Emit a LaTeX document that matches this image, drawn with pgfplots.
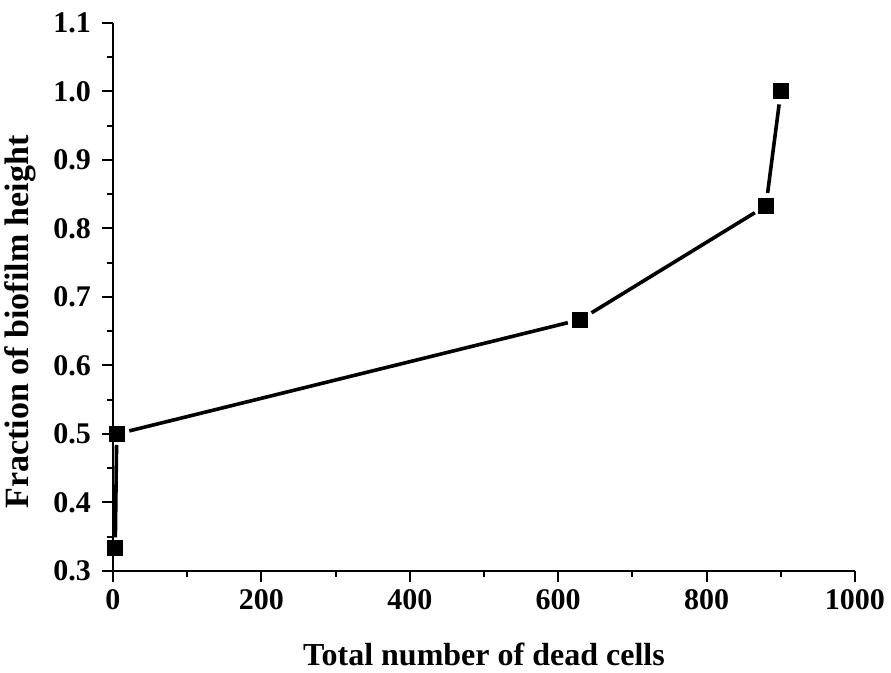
\documentclass[border=0pt]{standalone}
\usepackage{pgfplots}
\pgfplotsset{compat=1.18}
\usepackage{fontspec}
\setmainfont{Liberation Serif}
\pgfplotstableread{
x    y
3    0.333
5    0.5
630  0.667
880  0.833
900  1.0
}\heightdata
\begin{document}
\begin{tikzpicture}
\begin{axis}[
  scale only axis,
  width=371pt, height=274pt,
  xmin=0, xmax=1000, ymin=0.3, ymax=1.1,
  axis lines*=left,
  axis line style={line width=1pt, -},
  xtick={0,200,...,1000},
  ytick={0.3,0.4,...,1.1},
  minor x tick num=1, minor y tick num=1,
  tick align=outside,
  major tick length=5.5pt, minor tick length=3pt,
  every tick/.style={line width=1pt, black},
  tick label style={font=\fontsize{15}{18}\selectfont\bfseries},
  /pgf/number format/assume math mode=true,
  yticklabel style={xshift=-2pt, /pgf/number format/.cd, fixed, fixed zerofill, precision=1},
  xticklabel style={/pgf/number format/.cd, fixed, 1000 sep={}},
  xlabel={Total number of dead cells},
  ylabel={Fraction of biofilm height},
  xlabel style={font=\fontsize{16}{19}\selectfont\bfseries, yshift=-10pt},
  ylabel style={font=\fontsize{17}{20}\selectfont\bfseries, yshift=2pt, xshift=-12.5pt},
  clip=false,
]
% connecting segments, each stopped short of the markers
\addplot[black, line width=1.8pt, shorten <=5.5pt, shorten >=5.5pt]
  coordinates {(3, 0.333) (5, 0.5)};
\addplot[black, line width=1.8pt, shorten <=6.5pt, shorten >=6.5pt]
  coordinates {(5, 0.5) (630, 0.667)};
\addplot[black, line width=1.8pt, shorten <=6.5pt, shorten >=6.5pt]
  coordinates {(630, 0.667) (880, 0.833)};
\addplot[black, line width=1.8pt, shorten <=6.5pt, shorten >=6.5pt]
  coordinates {(880, 0.833) (900, 1.0)};
% data markers
\addplot[only marks, mark=square*, mark size=3.75pt,
  mark options={fill=black, draw=black, line width=0pt}]
  table[x=x, y=y] {\heightdata};
\end{axis}
\pgfresetboundingbox
\useasboundingbox (-56.5pt,-51pt) rectangle (389pt,285.5pt);
\end{tikzpicture}
\end{document}
